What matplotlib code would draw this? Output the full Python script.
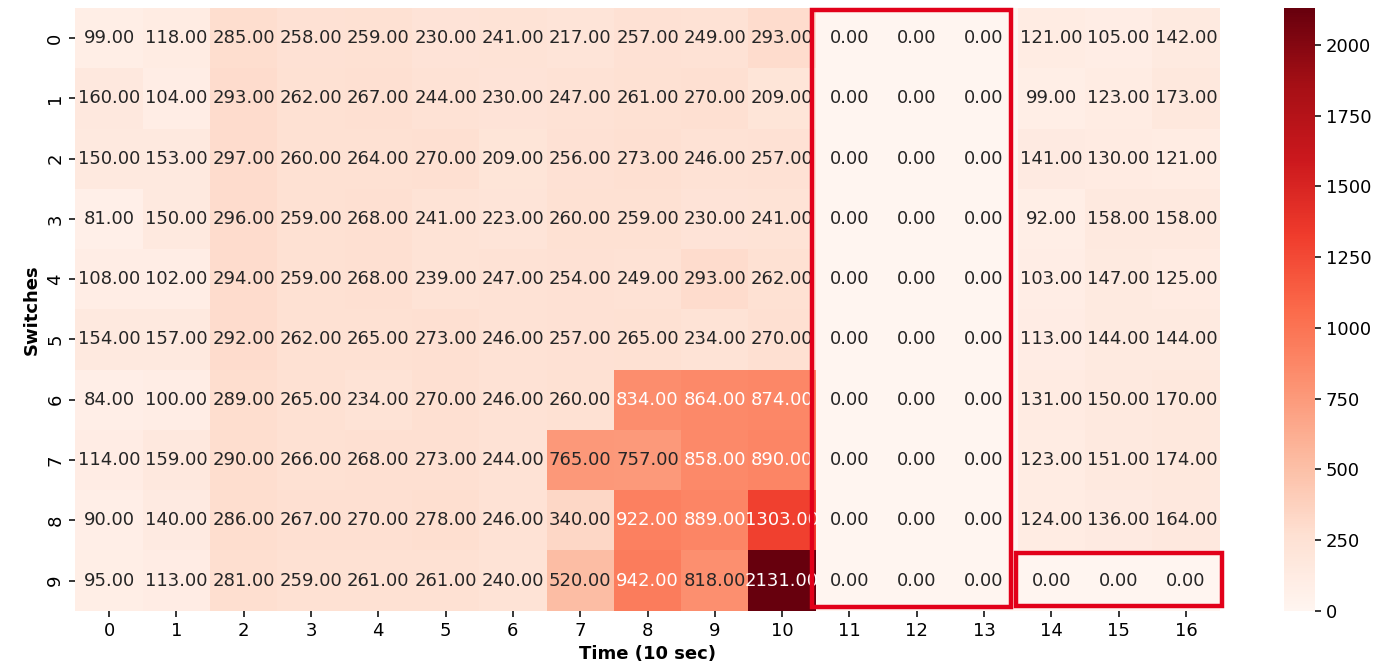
''' Switch traffic heatmap with the dropped intervals boxed '''

import matplotlib
matplotlib.use('Agg')
import matplotlib.pyplot as ppl
from matplotlib.patches import Rectangle
import numpy as np
import seaborn as sns

# packets per switch, one list per time step (10 sec)
time_steps = list(range(17))
switches = list(range(10))

t0 = [99, 160, 150, 81, 108, 154, 84, 114, 90, 95]
t1 = [118, 104, 153, 150, 102, 157, 100, 159, 140, 113]
t2 = [285, 293, 297, 296, 294, 292, 289, 290, 286, 281]
t3 = [258, 262, 260, 259, 259, 262, 265, 266, 267, 259]
t4 = [259, 267, 264, 268, 268, 265, 234, 268, 270, 261]
t5 = [230, 244, 270, 241, 239, 273, 270, 273, 278, 261]
t6 = [241, 230, 209, 223, 247, 246, 246, 244, 246, 240]
t7 = [217, 247, 256, 260, 254, 257, 260, 765, 340, 520]
t8 = [257, 261, 273, 259, 249, 265, 834, 757, 922, 942]
t9 = [249, 270, 246, 230, 293, 234, 864, 858, 889, 818]
t10 = [293, 209, 257, 241, 262, 270, 874, 890, 1303, 2131]
t11 = [0, 0, 0, 0, 0, 0, 0, 0, 0, 0]
t12 = [0, 0, 0, 0, 0, 0, 0, 0, 0, 0]
t13 = [0, 0, 0, 0, 0, 0, 0, 0, 0, 0]
t14 = [121, 99, 141, 92, 103, 113, 131, 123, 124, 0]
t15 = [105, 123, 130, 158, 147, 144, 150, 151, 136, 0]
t16 = [142, 173, 121, 158, 125, 144, 170, 174, 164, 0]

columns = [t0, t1, t2, t3, t4, t5, t6, t7, t8, t9,
           t10, t11, t12, t13, t14, t15, t16]
traffic = np.array(columns).T

BOX_RED = '#e2001a'

# the original was drawn small and scaled up, so everything is ~1.3x
ppl.rcParams['font.size'] = 13
ppl.rcParams['xtick.major.size'] = 4.5
ppl.rcParams['ytick.major.size'] = 4.5
ppl.rcParams['xtick.major.width'] = 1.1
ppl.rcParams['ytick.major.width'] = 1.1

fig = ppl.figure(figsize=(13.97, 6.66), dpi=100)
ax = fig.add_axes([0.054, 0.083, 0.819, 0.905])
cax = fig.add_axes([0.919, 0.083, 0.022, 0.905])

sns.heatmap(traffic, annot=True, fmt='.2f', cmap='Reds',
            xticklabels=time_steps, yticklabels=switches,
            ax=ax, cbar_ax=cax, annot_kws={'fontsize': 13})

# 818 is drawn with dark text in the original
for txt in ax.texts:
    if txt.get_text() == '818.00':
        txt.set_color('#262626')

ax.set_xlabel('Time (10 sec)', fontweight='bold', fontsize=13)
ax.set_ylabel('Switches', fontweight='bold', fontsize=13)

# highlight the blackout window and the missing tail of switch 9
# (drawn over the annotations, the boxes were pasted on top)
ax.add_patch(Rectangle((10.95, 0.03), 2.95, 9.9, fill=False, zorder=10,
                       edgecolor=BOX_RED, linewidth=3.2, clip_on=False))
ax.add_patch(Rectangle((13.98, 9.05), 3.06, 0.87, fill=False, zorder=10,
                       edgecolor=BOX_RED, linewidth=3.2, clip_on=False))

fig.savefig('out.png', dpi=100)
